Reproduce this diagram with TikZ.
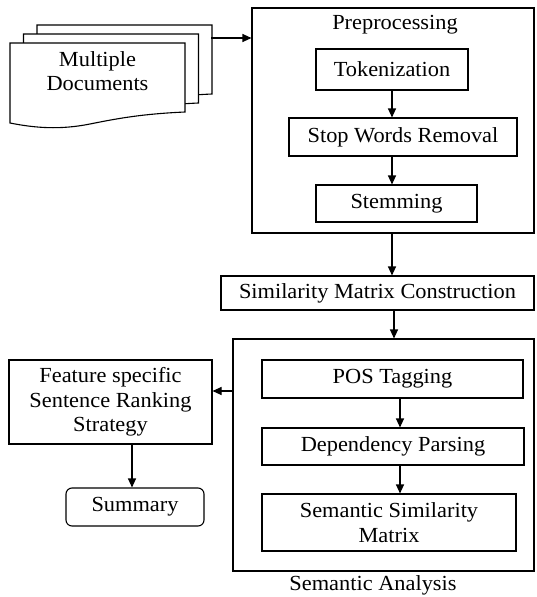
\documentclass[tikz,border=0pt]{standalone}
\usepackage{fontspec}
\setmainfont[FakeStretch=1.04]{Liberation Serif}
\usetikzlibrary{arrows.meta,calc}
\begin{document}
\begin{tikzpicture}[x=1pt,y=-1pt,
  line width=1.1pt,
  every node/.style={font=\fontsize{21.5}{24.5}\selectfont, inner sep=0pt, align=center},
  box/.style={draw, rectangle},
  arr/.style={-{Triangle[length=9pt,width=8pt]}},
  docshape/.style={draw, fill=white, line width=1.1pt}
]
\useasboundingbox (0,0) rectangle (536,597);
% stacked documents (back to front)
\foreach \dx/\dy in {27/-18, 13.5/-9, 0/0}{
  \draw[docshape, shift={(\dx,\dy)}] (10,43) -- (185,43) -- (185,112)
     .. controls (140,114) and (115,119) .. (90,124)
     .. controls (60,130) and (35,128) .. (10,123) -- cycle;
}
\coordinate (docR) at (211,38);
\node (docs) at (97.5,71) {Multiple\\Documents};
% preprocessing
\node[box, minimum width=282, minimum height=225] (pre) at (393,120.5) {};
\node (prelbl) at (395,25) {Preprocessing};
\node[box, minimum width=152, minimum height=41] (tok) at (392,69.5) {Tokenization};
\node[box, minimum width=228, minimum height=38] (swr) at (403,137) {Stop Words Removal};
\node[box, minimum width=161, minimum height=37] (stem) at (396.5,203.5) {Stemming};
% similarity matrix construction
\node[box, minimum width=313, minimum height=34] (smc) at (377.5,293) {Similarity Matrix Construction};
% semantic analysis
\node[box, minimum width=301, minimum height=232] (sa) at (383.5,455) {};
\node (salbl) at (373,585) {Semantic Analysis};
\node[box, minimum width=261, minimum height=38] (pos) at (392.5,379) {POS Tagging};
\node[box, minimum width=262, minimum height=37] (dep) at (393,446.5) {Dependency Parsing};
\node[box, minimum width=254, minimum height=57] (ssm) at (389,522.5) {Semantic Similarity\\Matrix};
% ranking and summary
\node[box, minimum width=203, minimum height=84] (fsr) at (110.5,402) {Feature specific\\Sentence Ranking\\Strategy};
\node[box, rounded corners=6pt, minimum width=138, minimum height=38] (sum) at (135,507) {Summary};
% connectors
\draw[arr] (docR) -- (docR -| pre.west);
\coordinate (c1) at (392,0);
\draw[arr] (tok.south -| c1) -- (swr.north -| c1);
\draw[arr] (swr.south -| c1) -- (stem.north -| c1);
\draw[arr] (pre.south -| c1) -- (smc.north -| c1);
\coordinate (c2) at (394,0);
\draw[arr] (smc.south -| c2) -- (sa.north -| c2);
\coordinate (c3) at (400,0);
\draw[arr] (pos.south -| c3) -- (dep.north -| c3);
\draw[arr] (dep.south -| c3) -- (ssm.north -| c3);
\coordinate (saL) at (0,391);
\draw[arr] (sa.west |- saL) -- (fsr.east |- saL);
\coordinate (c4) at (132,0);
\draw[arr] (fsr.south -| c4) -- (sum.north -| c4);
\end{tikzpicture}
\end{document}
